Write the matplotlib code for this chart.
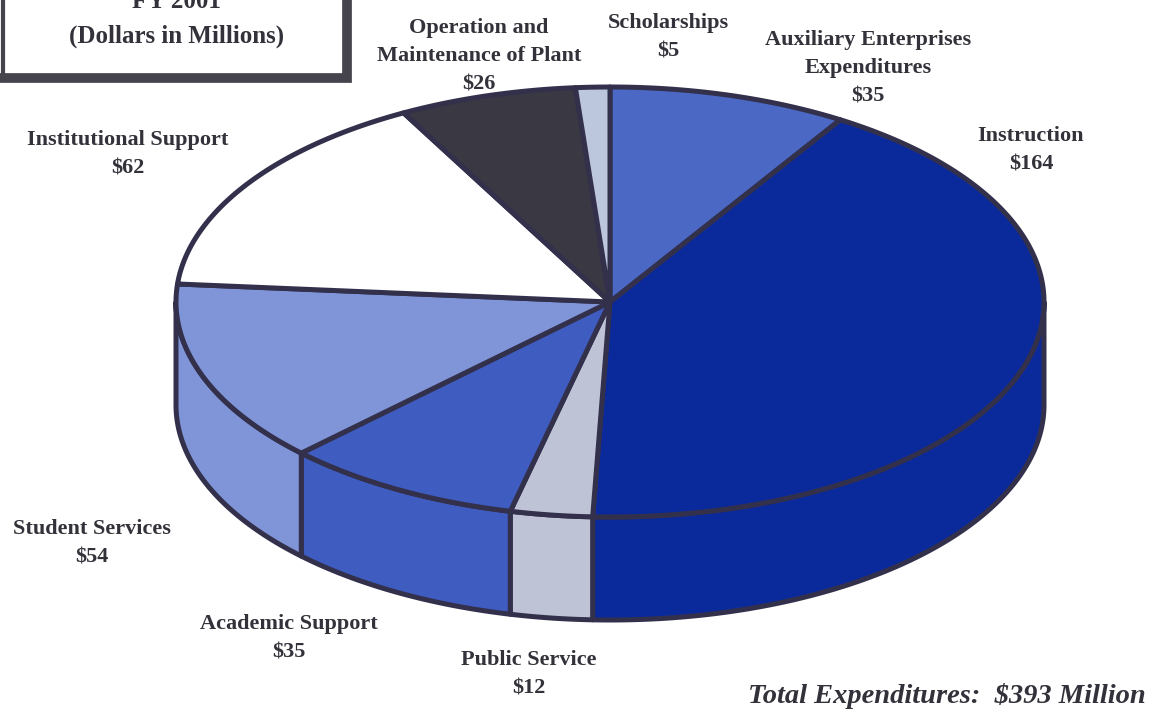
import numpy as np
import matplotlib
matplotlib.use("Agg")
import matplotlib.pyplot as plt
from matplotlib.patches import Rectangle

# slices clockwise from the top of the pie
categories = ["Auxiliary Enterprises", "Instruction", "Public Service", "Academic Support",
              "Student Services", "Institutional Support", "Operation and Maintenance", "Scholarships"]
amounts = [35, 164, 12, 35, 54, 62, 26, 5]
colors = ["#4a68c4", "#0a2a9c", "#bec4d6", "#3f5cc0", "#7f95d8", "#ffffff", "#3a3842", "#bcc6dc"]

line_color = "#33304c"
text_color = "#33323a"

# pie geometry in image pixels
cx, cy = 610, 302
rx, ry = 434, 215
depth = 103

fig = plt.figure(figsize=(11.61, 7.09), dpi=100)
ax = fig.add_axes([0, 0, 1, 1])
ax.set_xlim(0, 1161)
ax.set_ylim(709, 0)
ax.axis("off")

plt.rcParams["font.family"] = "Liberation Serif"


def rim(a, b):
    t = np.radians(np.linspace(a, b, max(int(abs(b - a)) * 2, 2)))
    return cx + rx * np.sin(t), cy - ry * np.cos(t)


# cumulative angles from the amounts
edges = np.concatenate([[0], np.cumsum(amounts)]) / sum(amounts) * 360

# side wall, only the front half of the rim shows
for a, b, col in zip(edges[:-1], edges[1:], colors):
    lo, hi = max(a, 90), min(b, 270)
    if lo >= hi:
        continue
    x, y = rim(lo, hi)
    ax.fill(np.r_[x, x[::-1]], np.r_[y, y[::-1] + depth], facecolor=col, edgecolor=line_color,
            linewidth=3.6, joinstyle="round", zorder=2)

# top of the pie
for a, b, col in zip(edges[:-1], edges[1:], colors):
    x, y = rim(a, b)
    ax.fill(np.r_[cx, x], np.r_[cy, y], facecolor=col, edgecolor=line_color,
            linewidth=3.6, joinstyle="round", zorder=3)

# title box
ax.add_patch(Rectangle((-5, -10), 353, 88, facecolor="white", edgecolor="#45434c", linewidth=0, zorder=1))
ax.plot([3, 3], [-5, 76], color="#45434c", lw=3, zorder=5)
ax.plot([3, 347, 347], [78, 78, -5], color="#45434c", lw=7, solid_joinstyle="miter", zorder=5)

label_font = dict(fontsize=16, fontweight="bold", color=text_color, ha="center", va="center",
                  linespacing=1.55, zorder=6)
ax.text(176, 1, "FY 2001", **{**label_font, "fontsize": 18})
ax.text(177, 36, "(Dollars in Millions)", **{**label_font, "fontsize": 18})

ax.text(128, 154, "Institutional Support\n$62", **label_font)
ax.text(479, 56, "Operation and\nMaintenance of Plant\n$26", **label_font)
ax.text(668, 37, "Scholarships\n$5", **label_font)
ax.text(868, 68, "Auxiliary Enterprises\nExpenditures\n$35", **label_font)
ax.text(1031, 150, "Instruction\n$164", **label_font)
ax.text(92, 543, "Student Services\n$54", **label_font)
ax.text(289, 638, "Academic Support\n$35", **label_font)
ax.text(529, 674, "Public Service\n$12", **label_font)
ax.text(947, 696, "Total Expenditures:  $393 Million", fontsize=20.5, fontweight="bold",
        fontstyle="italic", color=text_color, ha="center", va="center", zorder=6)

fig.savefig("out.png", dpi=100)
